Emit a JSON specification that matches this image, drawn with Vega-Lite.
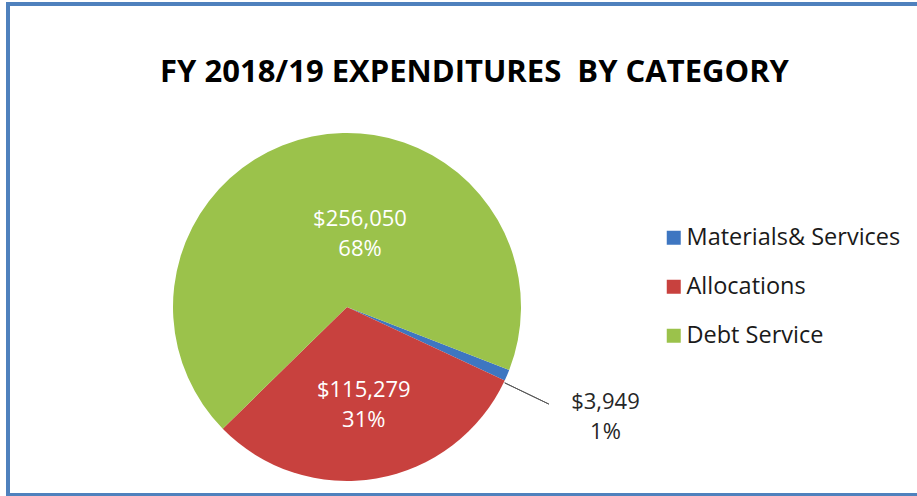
{
  "$schema": "https://vega.github.io/schema/vega-lite/v6.json",
  "autosize": {"type": "none"},
  "width": 913,
  "height": 491,
  "padding": {"left": 8, "top": 4, "right": -4, "bottom": 1},
  "background": "white",
  "config": {
    "view": {"stroke": "#4F81BD", "strokeWidth": 4},
    "font": "Open Sans"
  },
  "title": {
    "text": "FY 2018/19 EXPENDITURES\u00a0 BY CATEGORY",
    "font": "Open Sans",
    "fontSize": 31,
    "fontWeight": "bold",
    "color": "#000000",
    "anchor": "middle",
    "frame": "group",
    "baseline": "alphabetic",
    "offset": -109,
    "dx": 10
  },
  "data": {
    "values": [
      {"category": "Materials& Services", "amount": 3949, "pct": 1},
      {"category": "Allocations", "amount": 115279, "pct": 31},
      {"category": "Debt Service", "amount": 256050, "pct": 68}
    ]
  },
  "transform": [
    {"calculate": "['$' + format(datum.amount, ','), datum.pct + '%']", "as": "label"}
  ],
  "encoding": {
    "theta": {"field": "amount", "type": "quantitative", "stack": true, "scale": {"range": [2.0071, 8.2903]}},
    "order": {"field": "category", "sort": "ascending"},
    "x": {"value": 339},
    "y": {"value": 303}
  },
  "layer": [
    {
      "mark": {"type": "arc", "radius": 174, "stroke": null},
      "encoding": {
        "color": {
          "field": "category",
          "type": "nominal",
          "sort": null,
          "scale": {
            "domain": ["Materials& Services", "Allocations", "Debt Service"],
            "range": ["#3E76C1", "#C8413E", "#9BC24B"]
          },
          "legend": {
            "orient": "none",
            "legendX": 654,
            "legendY": 222,
            "title": null,
            "padding": 0,
            "symbolType": "square",
            "symbolSize": 196,
            "symbolStrokeWidth": 0,
            "labelFont": "Open Sans",
            "labelFontSize": 23.5,
            "labelColor": "#1a1a1a",
            "labelLimit": 400,
            "labelOffset": 1,
            "rowPadding": 24
          }
        }
      }
    },
    {
      "mark": {"type": "arc", "radius": 224, "radius2": 175, "padAngle": 0.2, "thetaOffset": 0.045, "theta2Offset": 0.045, "fill": null, "filled": false, "stroke": "#595959", "strokeWidth": 1},
      "encoding": {
        "detail": {"field": "category"},
        "strokeOpacity": {"condition": {"test": "datum.category === 'Materials& Services'", "value": 1}, "value": 0}
      }
    },
    {
      "mark": {"type": "text", "radius": 74, "thetaOffset": 0.379, "fontSize": 22, "fill": "white", "lineHeight": 30, "baseline": "middle", "align": "center", "dy": -15.5},
      "encoding": {
        "detail": {"field": "category"},
        "text": {"condition": {"test": "datum.category === 'Debt Service'", "field": "label"}, "value": ""}
      }
    },
    {
      "mark": {"type": "text", "radius": 99.5, "fontSize": 22, "fill": "white", "lineHeight": 30, "baseline": "middle", "align": "center", "dy": -15.5},
      "encoding": {
        "detail": {"field": "category"},
        "text": {"condition": {"test": "datum.category === 'Allocations'", "field": "label"}, "value": ""}
      }
    },
    {
      "mark": {"type": "text", "radius": 281, "fontSize": 22, "fill": "#262626", "lineHeight": 30, "baseline": "middle", "align": "center", "dy": -15.5},
      "encoding": {
        "detail": {"field": "category"},
        "text": {"condition": {"test": "datum.category === 'Materials& Services'", "field": "label"}, "value": ""}
      }
    }
  ]
}
